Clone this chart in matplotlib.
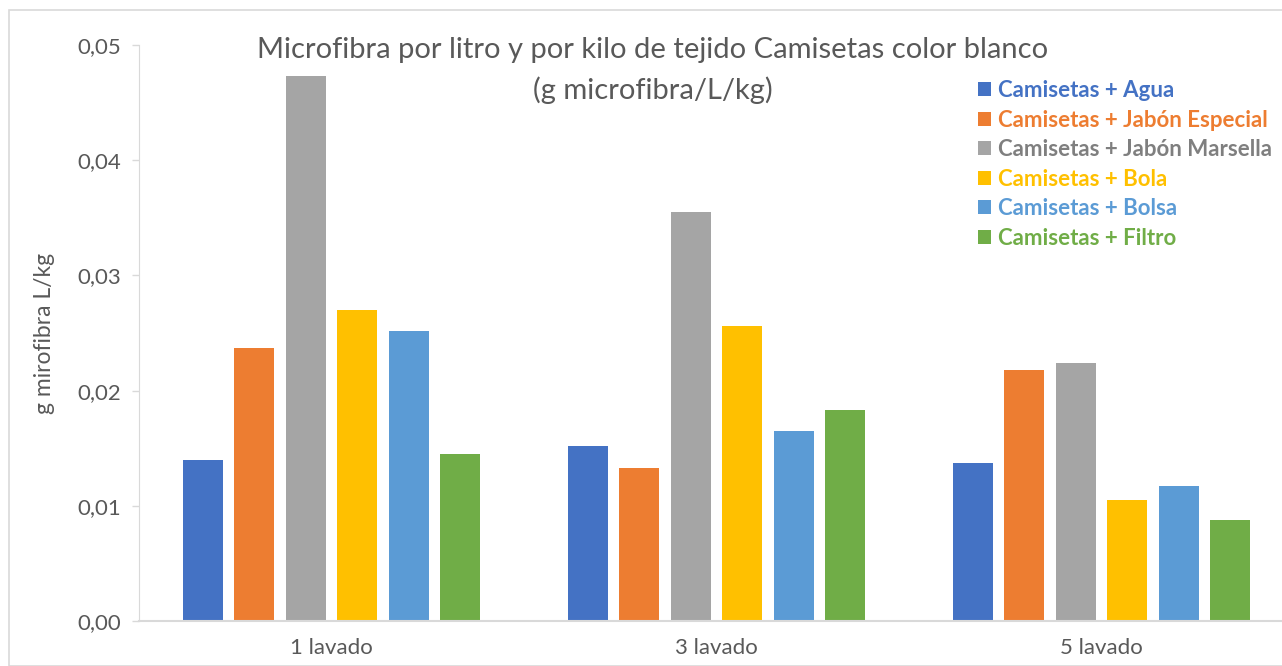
import numpy as np
import matplotlib
matplotlib.use("Agg")
from matplotlib import pyplot as plt
from matplotlib.patches import Rectangle

categories = ["1 lavado", "3 lavado", "5 lavado"]
series = ["Camisetas + Agua", "Camisetas + Jabón Especial", "Camisetas + Jabón Marsella",
          "Camisetas + Bola", "Camisetas + Bolsa", "Camisetas + Filtro"]
agua = [0.0140, 0.0152, 0.0137]
jabon_especial = [0.0237, 0.0133, 0.0218]
jabon_marsella = [0.0473, 0.0355, 0.0224]
bola = [0.0270, 0.0256, 0.0105]
bolsa = [0.0252, 0.0165, 0.0117]
filtro = [0.0145, 0.0183, 0.0088]
values = [agua, jabon_especial, jabon_marsella, bola, bolsa, filtro]
colors = ["#4472C4", "#ED7D31", "#A5A5A5", "#FFC000", "#5B9BD5", "#70AD47"]
text_colors = ["#4472C4", "#ED7D31", "#7F7F7F", "#FFC000", "#5B9BD5", "#70AD47"]

plt.rcParams['font.family'] = ['Lato', 'DejaVu Sans']

W, H = 1282, 666
fig = plt.figure(figsize=(W / 100, H / 100), dpi=100)
fig.patches.append(Rectangle((9 / W, 0), 1.2, (H - 10) / H, transform=fig.transFigure,
                             fill=False, edgecolor="#D9D9D9", lw=1.2))

# axes extends past the right edge (as in reference crop)
left, right, bottom, top = 139, 139 + 3 * 385, 45, 621
ax = fig.add_axes([left / W, 1 - top / H, (right - left) / W, (top - bottom) / H])

x = np.arange(len(categories))
step = 0.1335
width = 0.104
for i, (vals, c, lab) in enumerate(zip(values, colors, series)):
    ax.bar(x + (i - 2.5) * step, vals, width, color=c, label=lab)

ax.set_xlim(-0.5, 2.5)
ax.set_ylim(0, 0.05)
ax.set_yticks(np.arange(0, 0.0501, 0.01))
ax.set_yticklabels([f"{v:.2f}".replace(".", ",") for v in np.arange(0, 0.0501, 0.01)])
ax.set_xticks(x)
ax.set_xticklabels(categories)
ax.tick_params(axis="x", length=0, labelsize=16, colors="#595959", pad=12)
ax.tick_params(axis="y", length=5, width=1, color="#D9D9D9", labelsize=16,
               labelcolor="#595959", pad=8)
for s in ["top", "right"]:
    ax.spines[s].set_visible(False)
ax.spines["left"].set_color("#D9D9D9")
ax.spines["bottom"].set_color("#D9D9D9")
ax.spines["bottom"].set_linewidth(1.5)
ax.set_ylabel("g mirofibra L/kg", fontsize=16.5, color="#595959", labelpad=16)

fig.text(653 / W, 1 - 50 / H, "Microfibra por litro y por kilo de tejido Camisetas color blanco",
         ha="center", va="center", fontsize=21, color="#595959")
fig.text(653 / W, 1 - 90 / H, "(g microfibra/L/kg)", ha="center", va="center",
         fontsize=21, color="#595959")

leg = ax.legend(loc="upper left", bbox_to_anchor=((978 - left) / (right - left), 1 - (80 - bottom) / (top - bottom)),
                frameon=False, prop={"weight": "bold", "size": 16}, labelcolor=text_colors,
                handlelength=0.6, handleheight=0.6, handletextpad=0.3, labelspacing=0.385,
                borderaxespad=0, borderpad=0)

fig.savefig("out.png", dpi=100)
